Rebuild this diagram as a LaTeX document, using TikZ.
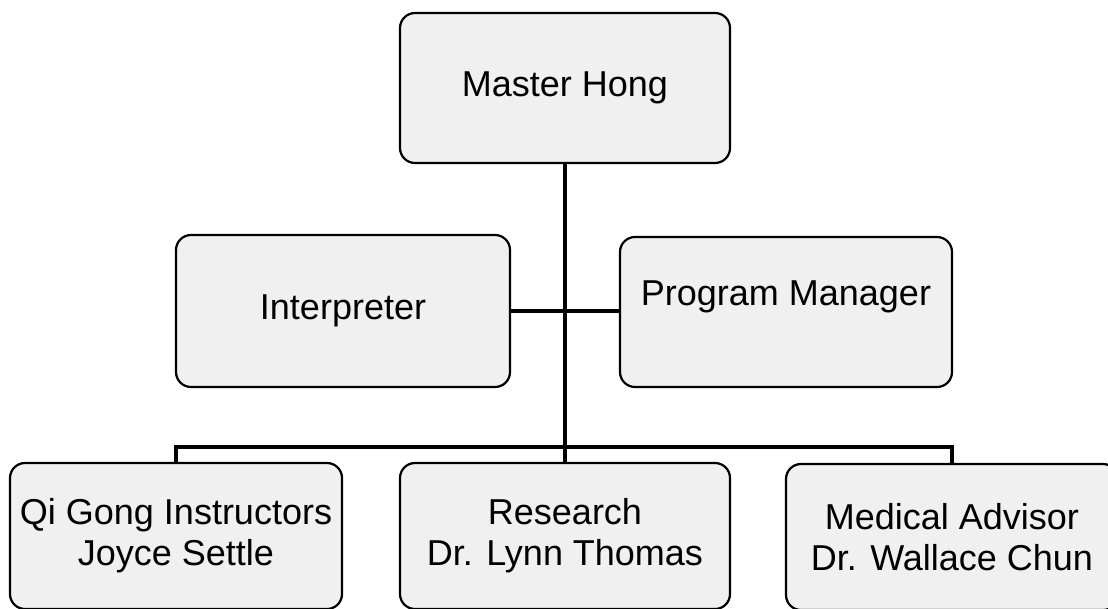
\documentclass[tikz,border=0pt]{standalone}
\usepackage{fontspec}
\setmainfont{Liberation Sans}
\usetikzlibrary{positioning}

\begin{document}
\begin{tikzpicture}[
  x=1pt, y=-1pt,
  box/.style={draw, line width=2.2pt, rounded corners=15pt, fill=black!6,
              minimum width=332pt, minimum height=150pt,
              font=\fontsize{36}{41}\selectfont, align=center},
  link/.style={line width=3.5pt}
]
\useasboundingbox (0,0) rectangle (1108,608);

\node[box, minimum width=330pt] (hong) at (565,88) {Master Hong};
\node[box, minimum width=334pt, minimum height=152pt] (interp) at (343,311) {Interpreter};
\node[box, text depth=37pt] (manager) at (786,312) {Program Manager};
\node[box, minimum height=146pt] (qigong) at (176,536) {Qi Gong Instructors\\Joyce Settle};
\node[box, minimum width=330pt, minimum height=146pt] (research) at (565,536) {Research\\Dr. Lynn Thomas};
\node[box, minimum height=146pt] (medical) at (952,537) {Medical Advisor\\Dr. Wallace Chun};

\coordinate (bus) at (565,447);
\draw[link] (hong) -- (research);
\draw[link] (interp.east) -- (interp.east -| manager.west);
\draw[link] (qigong.north) |- (bus) -| (medical.north);
\end{tikzpicture}
\end{document}
